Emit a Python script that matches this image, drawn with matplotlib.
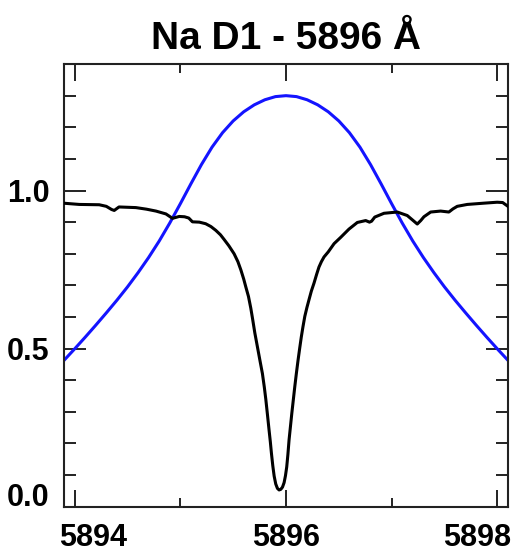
import matplotlib
matplotlib.use("Agg")
import matplotlib.pyplot as plt
import matplotlib.transforms as mtransforms
from matplotlib.ticker import MultipleLocator

plt.rcParams.update({
    "font.family": ["Liberation Sans", "DejaVu Sans"],
    "font.weight": "bold",
})

# Instrument passband (blue), read as offset from line centre -> transmission
BAND_CENTER = 5896.0
BAND_DX = [0.0, 0.1, 0.2, 0.3, 0.4, 0.5, 0.6, 0.7, 0.8, 0.9, 1.0, 1.1,
           1.2, 1.3, 1.4, 1.5, 1.6, 1.7, 1.8, 1.9, 2.0, 2.1]
BAND_Y = [1.300, 1.297, 1.287, 1.271, 1.249, 1.220, 1.183, 1.137, 1.082,
          1.021, 0.958, 0.897, 0.840, 0.788, 0.740, 0.695, 0.653, 0.613,
          0.574, 0.536, 0.499, 0.463]

# Solar spectrum (black) around Na D1
SPEC_WL = [5893.893, 5894.044, 5894.233, 5894.300, 5894.350, 5894.375,
           5894.420, 5894.580, 5894.680, 5894.770, 5894.864, 5894.926,
           5894.990, 5895.040, 5895.080, 5895.115, 5895.180, 5895.240,
           5895.290, 5895.336, 5895.380, 5895.415, 5895.460, 5895.509,
           5895.545, 5895.573, 5895.600, 5895.620, 5895.645, 5895.667,
           5895.685, 5895.705, 5895.730, 5895.755, 5895.777, 5895.795,
           5895.809, 5895.825, 5895.840, 5895.852, 5895.862, 5895.875,
           5895.888, 5895.903, 5895.919, 5895.935, 5895.951, 5895.967,
           5895.982, 5895.995, 5896.007, 5896.018, 5896.029, 5896.042,
           5896.055, 5896.069, 5896.083, 5896.098, 5896.114, 5896.130,
           5896.145, 5896.160, 5896.178, 5896.198, 5896.218, 5896.240,
           5896.265, 5896.290, 5896.312, 5896.335, 5896.360, 5896.400,
           5896.455, 5896.518, 5896.596, 5896.675, 5896.754, 5896.790,
           5896.810, 5896.840, 5896.927, 5897.053, 5897.147, 5897.200,
           5897.242, 5897.275, 5897.305, 5897.369, 5897.463, 5897.541,
           5897.580, 5897.620, 5897.715, 5897.872, 5897.998, 5898.050,
           5898.100]
SPEC_Y = [0.960, 0.956, 0.955, 0.950, 0.940, 0.937,
          0.948, 0.946, 0.941, 0.935, 0.926, 0.912,
          0.918, 0.917, 0.913, 0.901, 0.900, 0.895,
          0.886, 0.874, 0.860, 0.845, 0.825, 0.800,
          0.775, 0.749, 0.720, 0.695, 0.665, 0.628,
          0.592, 0.550, 0.505, 0.460, 0.421, 0.378,
          0.340, 0.290, 0.242, 0.205, 0.170, 0.130,
          0.097, 0.072, 0.058, 0.053, 0.055, 0.062,
          0.076, 0.098, 0.126, 0.165, 0.211, 0.253,
          0.295, 0.337, 0.379, 0.421, 0.463, 0.502,
          0.537, 0.568, 0.602, 0.630, 0.655, 0.682,
          0.707, 0.735, 0.758, 0.775, 0.790, 0.806,
          0.832, 0.852, 0.878, 0.899, 0.905, 0.900,
          0.903, 0.916, 0.928, 0.932, 0.921, 0.906,
          0.894, 0.905, 0.917, 0.932, 0.935, 0.932,
          0.942, 0.950, 0.956, 0.960, 0.963, 0.962,
          0.950]

XTICKS = [5894, 5896, 5898]
YTICKS = [0.0, 0.5, 1.0]
TITLE = "Na D1 - 5896 Å"

band_x = [BAND_CENTER - d for d in BAND_DX[::-1]] + [BAND_CENTER + d for d in BAND_DX[1:]]
band_y = BAND_Y[::-1] + BAND_Y[1:]

fig = plt.figure(figsize=(5.18, 5.55), dpi=100, facecolor="white")
ax = fig.add_axes([0.1236, 0.087, 0.857, 0.7976])

ax.plot(band_x, band_y, color="#1414ff", lw=2.2, zorder=2,
        solid_joinstyle="round")
ax.plot(SPEC_WL, SPEC_Y, color="black", lw=2.2, zorder=3,
        solid_joinstyle="round")

ax.set_xlim(5893.9, 5898.1)
ax.set_ylim(0.0, 1.40)

ax.set_xticks(XTICKS)
ax.set_xticklabels([str(t) for t in XTICKS])
ax.set_yticks(YTICKS)
ax.set_yticklabels([f"{t:.1f}" for t in YTICKS])
ax.xaxis.set_minor_locator(MultipleLocator(1))
ax.yaxis.set_minor_locator(MultipleLocator(0.1))

ax.tick_params(axis="both", which="both", direction="in", top=True, right=True,
               width=1.4, colors="#222222", labelcolor="black", labelsize=22)
ax.tick_params(axis="x", which="major", length=12, pad=12)
ax.tick_params(axis="x", which="minor", length=6.5)
ax.tick_params(axis="y", which="major", length=16, pad=10.5)
ax.tick_params(axis="y", which="minor", length=8.5)

for sp in ax.spines.values():
    sp.set_linewidth(1.5)
    sp.set_color("#222222")

# nudge edge labels inward, as in the original
xlabels = ax.get_xticklabels()
xlabels[0].set_transform(xlabels[0].get_transform() +
                         mtransforms.ScaledTranslation(0.18, 0, fig.dpi_scale_trans))
xlabels[-1].set_transform(xlabels[-1].get_transform() +
                          mtransforms.ScaledTranslation(-0.20, 0, fig.dpi_scale_trans))
ylabels = ax.get_yticklabels()
ylabels[0].set_transform(ylabels[0].get_transform() +
                         mtransforms.ScaledTranslation(0, 0.12, fig.dpi_scale_trans))

ax.set_title(TITLE, fontsize=28, fontweight="bold", pad=11)

fig.savefig("out.png", dpi=100)
